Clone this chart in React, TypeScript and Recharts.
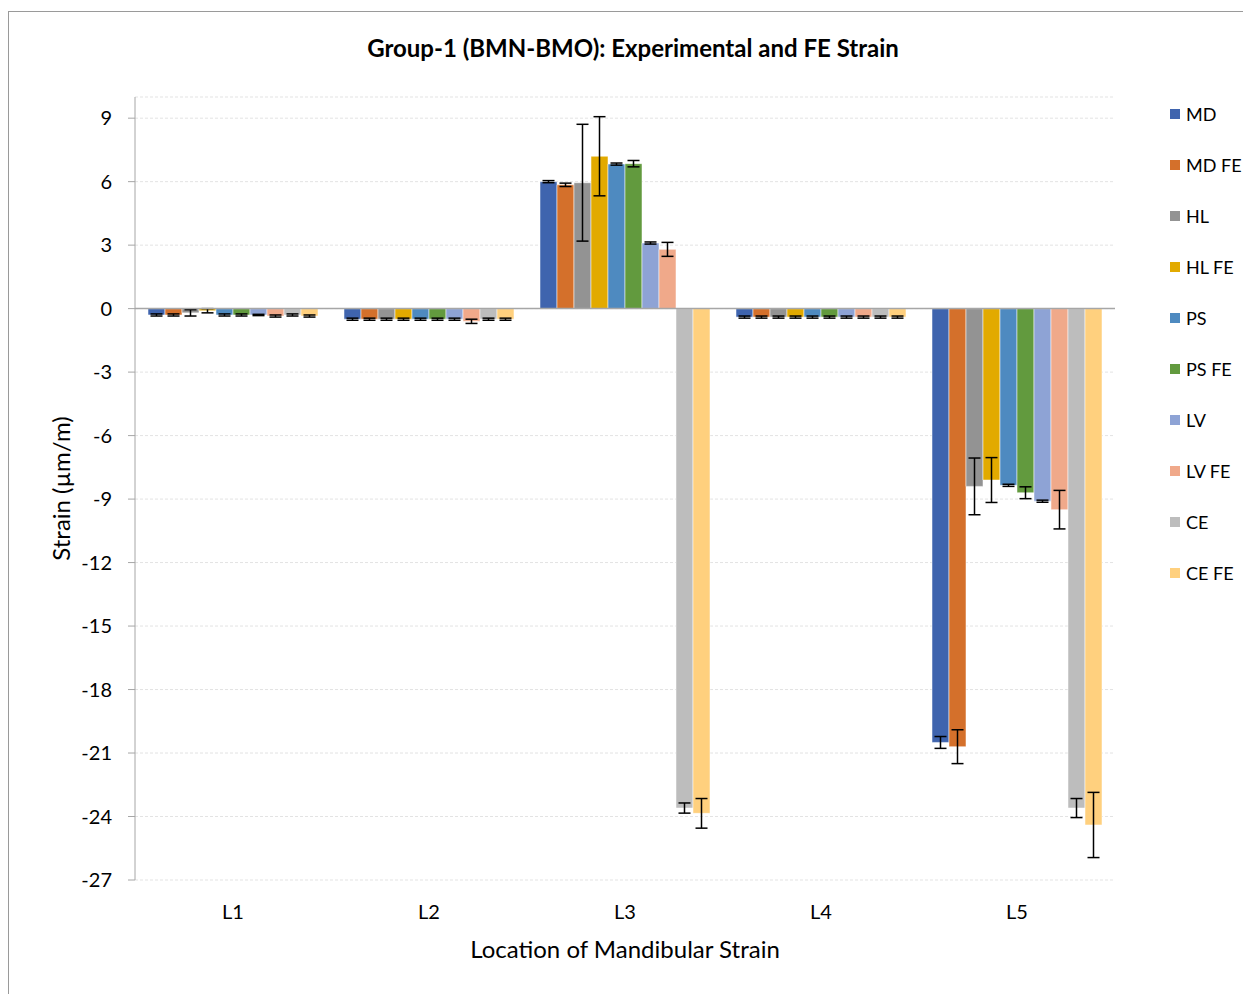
import {
  ComposedChart,
  Bar,
  ErrorBar,
  XAxis,
  YAxis,
  CartesianGrid,
  ReferenceLine,
} from "recharts";

const locations = ["L1", "L2", "L3", "L4", "L5"];

const seriesNames = ["MD", "MD FE", "HL", "HL FE", "PS", "PS FE", "LV", "LV FE", "CE", "CE FE"];

const seriesColors = [
  "#3f64ae",
  "#d4702b",
  "#939393",
  "#e2aa00",
  "#4e8ac0",
  "#629a3e",
  "#8ea3d5",
  "#f0a98a",
  "#bdbdbd",
  "#ffd07e",
];

// mean strain per location (L1..L5)
const md = [-0.3, -0.5, 6.0, -0.4, -20.5];
const mdFe = [-0.3, -0.5, 5.85, -0.4, -20.7];
const hl = [-0.2, -0.5, 5.95, -0.4, -8.4];
const hlFe = [-0.1, -0.5, 7.2, -0.4, -8.1];
const ps = [-0.3, -0.5, 6.83, -0.4, -8.35];
const psFe = [-0.3, -0.5, 6.85, -0.4, -8.7];
const lv = [-0.3, -0.5, 3.1, -0.4, -9.1];
const lvFe = [-0.35, -0.6, 2.8, -0.4, -9.5];
const ce = [-0.3, -0.5, -23.6, -0.4, -23.6];
const ceFe = [-0.35, -0.5, -23.85, -0.4, -24.4];

// +/- error per location
const mdErr = [0.05, 0.05, 0.05, 0.05, 0.28];
const mdFeErr = [0.05, 0.05, 0.08, 0.05, 0.8];
const hlErr = [0.15, 0.05, 2.76, 0.05, 1.34];
const hlFeErr = [0.1, 0.05, 1.87, 0.05, 1.06];
const psErr = [0.05, 0.05, 0.05, 0.05, 0.05];
const psFeErr = [0.05, 0.05, 0.15, 0.05, 0.28];
const lvErr = [0.03, 0.05, 0.05, 0.05, 0.05];
const lvFeErr = [0.05, 0.1, 0.33, 0.05, 0.91];
const ceErr = [0.05, 0.05, 0.24, 0.05, 0.45];
const ceFeErr = [0.05, 0.05, 0.7, 0.05, 1.54];

const yTicks = [-27, -24, -21, -18, -15, -12, -9, -6, -3, 0, 3, 6, 9];

const values = [md, mdFe, hl, hlFe, ps, psFe, lv, lvFe, ce, ceFe];
const errors = [mdErr, mdFeErr, hlErr, hlFeErr, psErr, psFeErr, lvErr, lvFeErr, ceErr, ceFeErr];

const data = locations.map((loc, i) => {
  const row: Record<string, string | number> = { loc };
  seriesNames.forEach((name, s) => {
    row[`s${s}`] = values[s][i];
    row[`e${s}`] = errors[s][i];
  });
  return row;
});

const FONT = "Lato, 'Open Sans', sans-serif";
const C = {
  axis: "#a6a6a6",
  grid: "#e3e3e3",
  text: "#000",
  frame: "#9a9a9a",
};

export default function App() {
  return (
    <div style={{ position: "relative", width: 1243, height: 986, fontFamily: FONT, color: C.text }}>
      {/* frame */}
      <div
        style={{
          position: "absolute",
          left: 0,
          top: 3,
          width: 1243,
          height: 983,
          borderTop: `1px solid ${C.frame}`,
          borderLeft: `1px solid ${C.frame}`,
          boxSizing: "border-box",
        }}
      />

      <div
        style={{
          position: "absolute",
          left: 0,
          top: 25,
          width: 1250,
          textAlign: "center",
          fontSize: 24,
          fontWeight: 700,
        }}
      >
        Group-1 (BMN-BMO): Experimental and FE Strain
      </div>

      <div style={{ position: "absolute", left: 0, top: 0 }}>
        <ComposedChart
          width={1243}
          height={986}
          data={data}
          margin={{ top: 89, right: 136, bottom: 74, left: 67 }}
          barCategoryGap={13}
          barGap={0}
        >
          <CartesianGrid vertical={false} stroke={C.grid} strokeDasharray="3 2" />
          <XAxis
            dataKey="loc"
            axisLine={false}
            tickLine={false}
            tickSize={0}
            tickMargin={25}
            height={40}
            tick={{ fill: C.text, fontSize: 20, fontFamily: FONT }}
          />
          <YAxis
            domain={[-27, 10]}
            ticks={yTicks}
            allowDataOverflow
            width={60}
            tickSize={7}
            tickMargin={16}
            axisLine={{ stroke: C.axis }}
            tickLine={{ stroke: C.axis }}
            tick={{ fill: C.text, fontSize: 20, fontFamily: FONT }}
          />
          {seriesNames.map((name, s) => (
            <Bar
              key={name}
              dataKey={`s${s}`}
              name={name}
              fill={seriesColors[s]}
              stroke="#ffffff"
              strokeOpacity={0.5}
              strokeWidth={1}
              isAnimationActive={false}
            >
              <ErrorBar dataKey={`e${s}`} width={6} stroke="#000" strokeWidth={1.5} direction="y" />
            </Bar>
          ))}
          <ReferenceLine y={0} stroke={C.axis} strokeWidth={1.5} />
        </ComposedChart>
      </div>

      {/* y axis title */}
      <div
        style={{
          position: "absolute",
          left: 52 - 150,
          top: 482 - 16,
          width: 300,
          textAlign: "center",
          fontSize: 24,
          transform: "rotate(-90deg)",
        }}
      >
        Strain (µm/m)
      </div>

      {/* x axis title */}
      <div
        style={{
          position: "absolute",
          left: 417,
          top: 926,
          width: 400,
          textAlign: "center",
          fontSize: 24,
        }}
      >
        Location of Mandibular Strain
      </div>

      {/* legend */}
      {seriesNames.map((name, s) => (
        <div
          key={name}
          style={{
            position: "absolute",
            left: 1162,
            top: 106 - 10 + s * 51,
            height: 20,
            display: "flex",
            alignItems: "center",
            fontSize: 18,
            whiteSpace: "nowrap",
          }}
        >
          <span
            style={{ width: 10, height: 10, background: seriesColors[s], marginRight: 6, display: "inline-block" }}
          />
          {name}
        </div>
      ))}
    </div>
  );
}
